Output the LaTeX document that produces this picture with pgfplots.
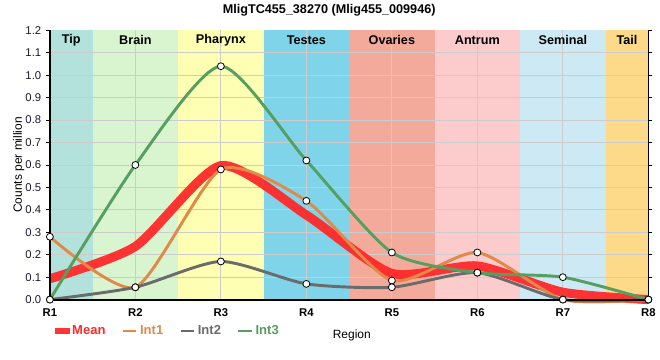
\documentclass[border=0pt]{standalone}
\usepackage{pgfplots}
\pgfplotsset{compat=1.18}
\usepackage{pgfplotstable}
\usepackage{fontspec}
\setmainfont{Liberation Sans}
\definecolor{cTip}{HTML}{B3E2DD}
\definecolor{cBrain}{HTML}{D9F5D0}
\definecolor{cPhar}{HTML}{FFFFB3}
\definecolor{cTest}{HTML}{7FD4EA}
\definecolor{cOva}{HTML}{F4AA9B}
\definecolor{cAnt}{HTML}{FCCBCB}
\definecolor{cSem}{HTML}{CDEAF4}
\definecolor{cTail}{HTML}{FDD98A}
\definecolor{cMean}{HTML}{FF2A2A}
\definecolor{cInt1}{HTML}{E08A4A}
\definecolor{cInt2}{HTML}{6B6B6B}
\definecolor{cInt3}{HTML}{55A060}
\definecolor{cTick}{HTML}{1A1A33}
\pgfplotstableread{
x int1 int2 int3 mean
1 0.28 0.0 0.0 0.093
2 0.055 0.055 0.60 0.237
3 0.58 0.17 1.04 0.597
4 0.44 0.07 0.62 0.377
5 0.085 0.055 0.21 0.117
6 0.21 0.12 0.12 0.150
7 0.0 0.0 0.10 0.033
8 0.0 0.0 0.0 0.0
}\datatable
\begin{document}
\begin{tikzpicture}
\begin{axis}[
  at={(37.5pt,45pt)}, anchor=south west,
  scale only axis, width=450pt, height=202.5pt,
  xmin=1, xmax=8, ymin=0, ymax=1.2,
  xtick={1,...,8}, xticklabels={R1,R2,R3,R4,R5,R6,R7,R8},
  xticklabel style={font=\bfseries\fontsize{8.5}{10}\selectfont, yshift=0pt},
  ytick={0,0.1,...,1.2},
  yticklabel style={font=\fontsize{8.5}{10}\selectfont, text=cTick, /pgf/number format/fixed, /pgf/number format/fixed zerofill, /pgf/number format/precision=1, /pgf/number format/assume math mode=true},
  axis line style={black, line width=0.6pt},
  tick align=outside, major tick length=3pt,
  xtick style={draw=none}, ytick style={black, line width=0.6pt},
  ylabel={Counts per million}, ylabel style={font=\fontsize{9}{11}\selectfont, yshift=-6pt},
  xlabel={Region}, xlabel style={font=\fontsize{9}{11}\selectfont, yshift=-3pt, xshift=2pt},
  legend columns=4,
  legend style={draw=none, fill=none, at={(0.008,-0.085)}, anchor=north west, font=\fontsize{9.8}{11}\selectfont, column sep=0pt, inner sep=0pt, nodes={inner xsep=2pt}, /tikz/every even column/.append style={column sep=10pt}},
  legend cell align=left,
  legend image code/.code={\draw[#1, line width=2pt] (0pt,0pt) -- (10pt,0pt);},
  clip=false,
]
\addplot[fill=cTip, draw=none, forget plot] coordinates {(1,0) (1,1.2) (1.5,1.2) (1.5,0)} -- cycle;
\addplot[fill=cBrain, draw=none, forget plot] coordinates {(1.5,0) (1.5,1.2) (2.5,1.2) (2.5,0)} -- cycle;
\addplot[fill=cPhar, draw=none, forget plot] coordinates {(2.5,0) (2.5,1.2) (3.5,1.2) (3.5,0)} -- cycle;
\addplot[fill=cTest, draw=none, forget plot] coordinates {(3.5,0) (3.5,1.2) (4.5,1.2) (4.5,0)} -- cycle;
\addplot[fill=cOva, draw=none, forget plot] coordinates {(4.5,0) (4.5,1.2) (5.5,1.2) (5.5,0)} -- cycle;
\addplot[fill=cAnt, draw=none, forget plot] coordinates {(5.5,0) (5.5,1.2) (6.5,1.2) (6.5,0)} -- cycle;
\addplot[fill=cSem, draw=none, forget plot] coordinates {(6.5,0) (6.5,1.2) (7.5,1.2) (7.5,0)} -- cycle;
\addplot[fill=cTail, draw=none, forget plot] coordinates {(7.5,0) (7.5,1.2) (8,1.2) (8,0)} -- cycle;
\pgfplotsinvokeforeach{2,...,7}{\draw[black!20, line width=0.6pt] (axis cs:#1,0) -- (axis cs:#1,1.2);}
\pgfplotsinvokeforeach{0.1,0.2,0.3,0.4,0.5,0.6,0.7,0.8,0.9,1.0,1.1}{\draw[black!20, line width=0.6pt] (axis cs:1,#1) -- (axis cs:8,#1);}
\addplot[cMean, opacity=0.95, line width=6.8pt, smooth, tension=0.4, no marks,
  legend image code/.code={\path[fill=cMean, draw=none] (0pt,-2.6pt) rectangle (11pt,2.6pt);}] table[x=x,y=mean]{\datatable};
\addlegendentry{\textcolor{cMean}{\textbf{Mean}}}
\addplot[cInt1, line width=2.2pt, smooth, tension=0.4, no marks] table[x=x,y=int1]{\datatable};
\addlegendentry{\textcolor{cInt1}{\textbf{Int1}}}
\addplot[cInt2, line width=2.2pt, smooth, tension=0.4, no marks] table[x=x,y=int2]{\datatable};
\addlegendentry{\textcolor{cInt2}{\textbf{Int2}}}
\addplot[cInt3, line width=2.2pt, smooth, tension=0.4, no marks] table[x=x,y=int3]{\datatable};
\addlegendentry{\textcolor{cInt3}{\textbf{Int3}}}
\addplot[only marks, mark=*, mark size=2.6pt, mark options={fill=white, draw=black, line width=0.6pt}, forget plot] table[x=x,y=int1]{\datatable};
\addplot[only marks, mark=*, mark size=2.6pt, mark options={fill=white, draw=black, line width=0.6pt}, forget plot] table[x=x,y=int2]{\datatable};
\addplot[only marks, mark=*, mark size=2.6pt, mark options={fill=white, draw=black, line width=0.6pt}, forget plot] table[x=x,y=int3]{\datatable};
\draw[black, line width=1.6pt] (axis cs:1,0) -- (axis cs:1,1.2);
\draw[black, line width=1.6pt] (axis cs:1,0) -- (axis cs:8,0);
\node[font=\bfseries\fontsize{9.5}{11}\selectfont] at (axis cs:1.25,1.155) {Tip};
\node[font=\bfseries\fontsize{9.5}{11}\selectfont] at (axis cs:2,1.155) {Brain};
\node[font=\bfseries\fontsize{9.5}{11}\selectfont] at (axis cs:3,1.155) {Pharynx};
\node[font=\bfseries\fontsize{9.5}{11}\selectfont] at (axis cs:4,1.155) {Testes};
\node[font=\bfseries\fontsize{9.5}{11}\selectfont] at (axis cs:5,1.155) {Ovaries};
\node[font=\bfseries\fontsize{9.5}{11}\selectfont] at (axis cs:6,1.155) {Antrum};
\node[font=\bfseries\fontsize{9.5}{11}\selectfont] at (axis cs:7,1.155) {Seminal};
\node[font=\bfseries\fontsize{9.5}{11}\selectfont] at (axis cs:7.75,1.155) {Tail};
\end{axis}
\node[font=\bfseries\fontsize{9.5}{11}\selectfont] at (247.5pt,262.5pt) {MligTC455\_38270 (Mlig455\_009946)};
\path[use as bounding box] (0pt,0pt) rectangle (495pt,270pt);
\end{tikzpicture}
\end{document}
